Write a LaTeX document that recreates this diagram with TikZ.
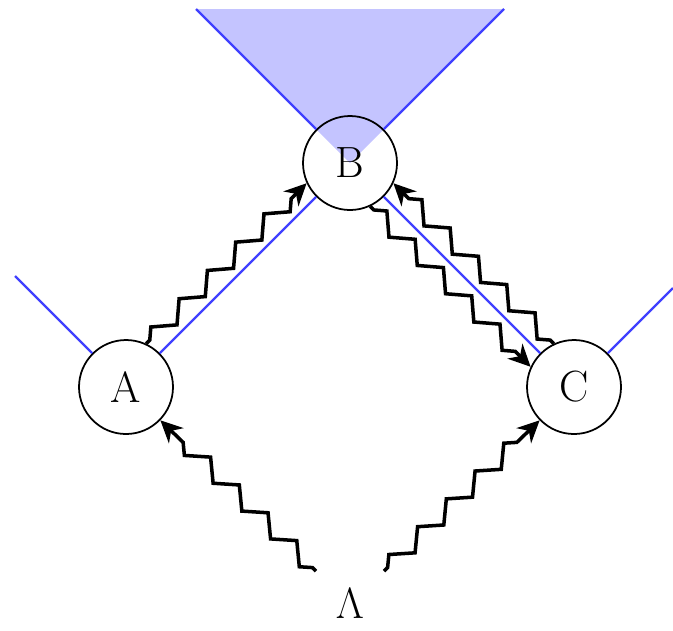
\documentclass[tikz,border=0pt]{standalone}
\usetikzlibrary{arrows.meta, decorations.pathmorphing, backgrounds}

\begin{document}
\begin{tikzpicture}[
    event/.style={draw, circle, minimum size=1.88cm, inner sep=0pt, line width=1pt, font=\Huge},
    source/.style={circle, minimum size=1.88cm, inner sep=0pt, font=\Huge},
    worldline/.style={draw=blue!75, line width=1.3pt},
    conefill/.style={fill=blue!23},
    photon/.style={-{Stealth[length=4.4mm, width=4.2mm, inset=1.4mm]}, line width=2pt, decorate,
        decoration={zigzag, segment length=8mm, amplitude=1.7mm, pre length=1mm, post length=4mm}}
]
\useasboundingbox (0,0) rectangle (13.46,-12.6);

% Events
\node[event] (A) at (2.52,-7.74) {A};
\node[event] (B) at (7.0,-3.26) {B};
\node[event] (C) at (11.48,-7.74) {C};
\node[source] (L) at (7.0,-12.08) {$\Lambda$};

% Light cone of B
\coordinate (coneL) at (3.92,-0.18);
\coordinate (coneR) at (10.08,-0.18);
\coordinate (farA) at (0.3,-5.52);
\coordinate (farC) at (13.46,-5.76);
\begin{scope}[on background layer]
    \fill[conefill] (B.center) -- (coneL) -- (coneR) -- cycle;
\end{scope}
\draw[worldline] (B) -- (coneL);
\draw[worldline] (B) -- (coneR);

% World lines
\draw[worldline] (A) -- (B);
\draw[worldline] (B) -- (C);
\draw[worldline] (A) -- (farA);
\draw[worldline] (C) -- (farC);

% Signals
\draw[photon] (A.65) -- (B.205);
\draw[photon] (B.295) -- (C.155);
\draw[photon] (C.115) -- (B.335);
\draw[photon] (L) -- (A);
\draw[photon] (L) -- (C);

\end{tikzpicture}
\end{document}
